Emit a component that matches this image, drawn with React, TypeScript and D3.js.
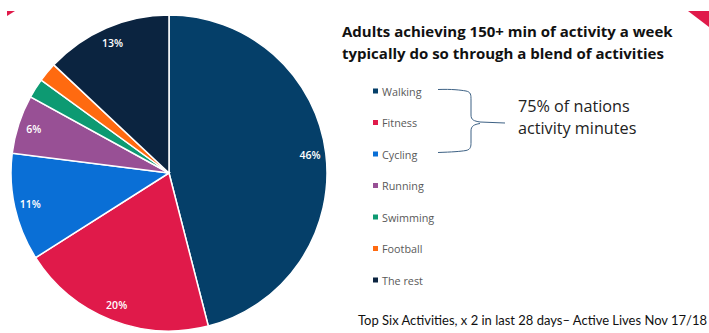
import React from "react";
import * as d3 from "d3";

const categories = ["Walking", "Fitness", "Cycling", "Running", "Swimming", "Football", "The rest"];
const values = [46, 20, 11, 6, 2, 2, 13];
const colors = ["#053f69", "#e01a4a", "#0a6fd6", "#985095", "#0d9a72", "#ff6a10", "#0b2440"];
const showLabel = [true, true, true, true, false, false, true];
const titleLines = [
  "Adults achieving 150+ min of activity a week",
  "typically do so through a blend of activities",
];
const calloutLines = ["75% of nations", "activity minutes"];
const footnote = "Top Six Activities, x 2 in last 28 days\u2013 Active Lives Nov 17/18";

const W = 709;
const H = 333;

export default function App() {
  const cx = 169;
  const cy = 173;
  const r = 158;
  const pie = d3.pie<number>().sort(null).value((d) => d)(values);
  const arc = d3.arc<d3.PieArcDatum<number>>().innerRadius(0).outerRadius(r);
  const labelArc = d3.arc<d3.PieArcDatum<number>>().innerRadius(r * 0.9).outerRadius(r * 0.9);

  const legendY = d3.scalePoint<string>().domain(categories).range([91, 280]);

  const bracePath = [
    "M438,89.5 C452,89 460,90 466,91 C471,92 471,95 471,100 L471,115 C471,120 474,121 480,122 L505,123",
    "M438,152.5 C452,152 460,151.5 466,150.5 C471,149.5 471,146 471,142 L471,131 C471,126 474,124.5 480,123.5",
  ];

  return (
    <svg width={W} height={H} style={{ position: "absolute", left: 0, top: 0, background: "#fff" }}>
      <polygon points="7,11 15,11 7,16" fill="#e01a4a" />
      <polygon points="688,11 709,11 709,27" fill="#e01a4a" />
      <g transform={`translate(${cx},${cy})`}>
        {pie.map((p, i) => (
          <path key={i} d={arc(p) || ""} fill={colors[i]} stroke="#ffffff" strokeWidth={1.5} />
        ))}
        {pie.map((p, i) => {
          if (!showLabel[i]) return null;
          const [x, y] = labelArc.centroid(p);
          return (
            <text
              key={"l" + i}
              x={x}
              y={y}
              textAnchor="middle"
              dominantBaseline="central"
              fill="#ffffff"
              fontFamily="'Open Sans', sans-serif"
              fontWeight={600}
              fontSize={10.5}
            >
              {values[i]}%
            </text>
          );
        })}
      </g>
      <g fontFamily="'Open Sans', sans-serif" fontWeight={700} fontSize={15} fill="#111">
        {titleLines.map((t, i) => (
          <text key={i} x={342} y={37 + i * 22}>
            {t}
          </text>
        ))}
      </g>
      <g fontFamily="'Open Sans', sans-serif" fontSize={10.8} fill="#595959">
        {categories.map((c, i) => (
          <g key={c}>
            <rect x={373} y={(legendY(c) as number) - 2.5} width={5} height={5} fill={colors[i]} />
            <text x={382} y={legendY(c) as number} dominantBaseline="central">
              {c}
            </text>
          </g>
        ))}
      </g>
      {bracePath.map((d, i) => (
        <path key={i} d={d} fill="none" stroke="#3d6184" strokeWidth={1} />
      ))}
      <g fontFamily="'Open Sans', sans-serif" fontSize={16.2} fill="#222">
        {calloutLines.map((t, i) => (
          <text key={i} x={518} y={112 + i * 22}>
            {t}
          </text>
        ))}
      </g>
      <text
        x={358}
        y={325}
        fontFamily="Lato, sans-serif"
        fontSize={12.5}
        fill="#111"
        textLength={349}
        lengthAdjust="spacingAndGlyphs"
      >
        {footnote}
      </text>
    </svg>
  );
}
